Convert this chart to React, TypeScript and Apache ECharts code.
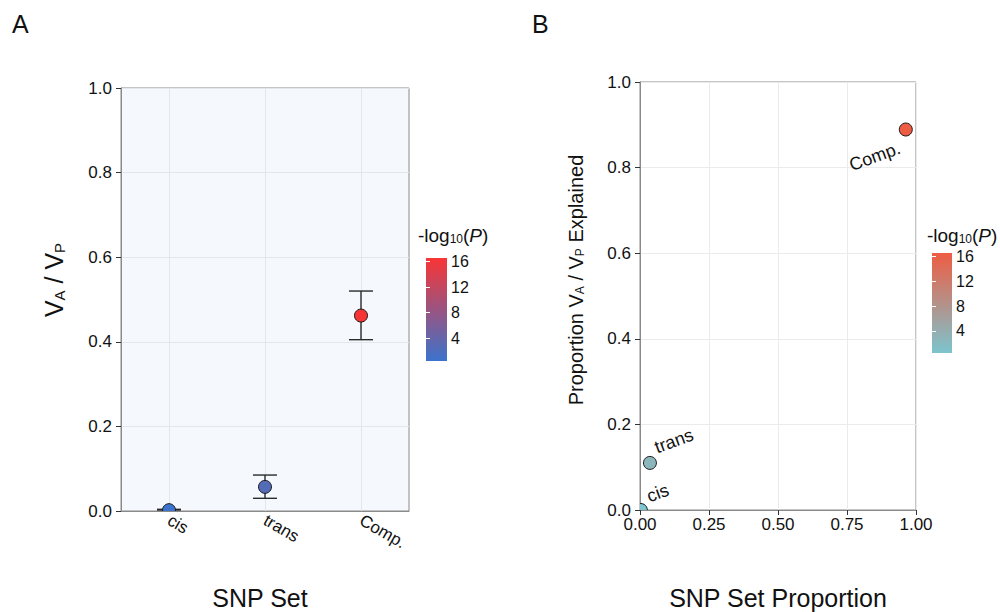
import React, { useEffect, useRef } from "react";
import * as echarts from "echarts";

// ---------- data ----------
const categories = ["cis", "trans", "Comp."];
const vaVp = [0.002, 0.057, 0.462];
const vaVpLow = [0.0, 0.03, 0.405];
const vaVpHigh = [0.004, 0.085, 0.52];
const negLog10P = [0.5, 2.6, 16.5];
const snpProportion = [0.003, 0.036, 0.963];
const propExplained = [0.0, 0.11, 0.889];
const colorbarTicks = [4, 8, 12, 16];
const pMin = 0.45;
const pMax = 16.55;

// ---------- styles ----------
const FONT = "'Liberation Sans', Arial, Helvetica, sans-serif";
const TXT = "#111111";
const leftColors = ["#3B73CC", "#F93535"];
const rightColors = ["#7CC4CE", "#EE5D43"];
const labelOffsets = [
  [17, -17],
  [24, -22],
  [-31, 27],
];

const axisLabelStyle = { fontSize: 17, color: TXT, fontFamily: FONT };

function colorbarSeries(gridIdx: number, colors: string[]) {
  return {
    type: "custom",
    xAxisIndex: gridIdx,
    yAxisIndex: gridIdx === 2 ? 2 : 4,
    silent: true,
    data: [[0, pMin, pMax]],
    renderItem: (_p: any, api: any) => {
      const a = api.coord([0, api.value(2)]);
      const b = api.coord([1, api.value(1)]);
      return {
        type: "rect",
        shape: { x: a[0], y: a[1], width: b[0] - a[0], height: b[1] - a[1] },
        style: {
          fill: new echarts.graphic.LinearGradient(0, 0, 0, 1, [
            { offset: 0, color: colors[1] },
            { offset: 1, color: colors[0] },
          ]),
        },
      };
    },
  };
}

function colorbarAxes(gridIndex: number) {
  return [
    {
      type: "value",
      gridIndex,
      min: pMin,
      max: pMax,
      position: "right",
      z: 5,
      axisLine: { show: false },
      splitLine: { show: false },
      axisTick: {
        show: true,
        inside: true,
        length: 4,
        customValues: colorbarTicks,
        lineStyle: { color: "#ffffff", width: 1 },
      },
      axisLabel: {
        show: true,
        margin: 4,
        customValues: colorbarTicks,
        fontSize: 16,
        color: TXT,
        fontFamily: FONT,
      },
    },
    {
      type: "value",
      gridIndex,
      min: pMin,
      max: pMax,
      position: "left",
      z: 5,
      axisLine: { show: false },
      splitLine: { show: false },
      axisTick: {
        show: true,
        inside: true,
        length: 4,
        customValues: colorbarTicks,
        lineStyle: { color: "#ffffff", width: 1 },
      },
      axisLabel: { show: false },
    },
  ];
}

export default function App() {
  const ref = useRef<HTMLDivElement>(null);

  useEffect(() => {
    if (!ref.current) return;
    const chart = echarts.init(ref.current, null, { renderer: "svg" });

    const legendTitle = (x: number) => ({
      type: "text",
      x,
      y: 235,
      style: {
        text: "-log{sub|10}({it|P})",
        align: "left",
        verticalAlign: "middle",
        fontSize: 19,
        fontFamily: FONT,
        fill: TXT,
        rich: {
          sub: { fontSize: 12, fontFamily: FONT, fill: TXT, verticalAlign: "bottom" },
          it: { fontSize: 19, fontStyle: "italic", fontFamily: FONT, fill: TXT },
        },
      },
    });

    const option: any = {
      animation: false,
      backgroundColor: "#ffffff",
      textStyle: { fontFamily: FONT },
      grid: [
        {
          left: 121,
          top: 88,
          width: 288,
          height: 423,
          show: true,
          backgroundColor: "#F5F8FC",
          borderColor: "#8a8a8a",
          borderWidth: 1,
        },
        {
          left: 640,
          top: 82,
          width: 276,
          height: 428,
          show: true,
          backgroundColor: "#ffffff",
          borderColor: "#8a8a8a",
          borderWidth: 1,
        },
        { left: 426, top: 258, width: 21, height: 103 },
        { left: 932, top: 253, width: 20, height: 100 },
      ],
      xAxis: [
        {
          type: "category",
          gridIndex: 0,
          data: categories,
          boundaryGap: true,
          axisLine: { lineStyle: { color: "#8a8a8a" } },
          axisTick: { alignWithLabel: true, length: 5, lineStyle: { color: "#333" } },
          axisLabel: { ...axisLabelStyle, rotate: -30, margin: 8 },
          splitLine: {
            show: true,
            alignWithLabel: true,
            lineStyle: { color: "#e3e7ec", width: 1 },
          },
        },
        {
          type: "value",
          gridIndex: 1,
          min: 0,
          max: 1,
          interval: 0.25,
          axisLine: { lineStyle: { color: "#8a8a8a" } },
          axisTick: { show: true, length: 5, lineStyle: { color: "#333" } },
          axisLabel: {
            ...axisLabelStyle,
            margin: 6,
            formatter: (v: number) => v.toFixed(2),
          },
          splitLine: { show: true, lineStyle: { color: "#ebebeb", width: 1 } },
        },
        { type: "value", gridIndex: 2, min: 0, max: 1, show: false },
        { type: "value", gridIndex: 3, min: 0, max: 1, show: false },
      ],
      yAxis: [
        {
          type: "value",
          gridIndex: 0,
          min: 0,
          max: 1,
          interval: 0.2,
          axisLine: { show: true, lineStyle: { color: "#8a8a8a" } },
          axisTick: { show: true, length: 5, lineStyle: { color: "#333" } },
          axisLabel: {
            ...axisLabelStyle,
            margin: 9,
            formatter: (v: number) => v.toFixed(1),
          },
          splitLine: { show: true, lineStyle: { color: "#e3e7ec", width: 1 } },
        },
        {
          type: "value",
          gridIndex: 1,
          min: 0,
          max: 1,
          interval: 0.2,
          axisLine: { show: true, lineStyle: { color: "#8a8a8a" } },
          axisTick: { show: true, length: 5, lineStyle: { color: "#333" } },
          axisLabel: {
            ...axisLabelStyle,
            margin: 9,
            formatter: (v: number) => v.toFixed(1),
          },
          splitLine: { show: true, lineStyle: { color: "#ebebeb", width: 1 } },
        },
        ...colorbarAxes(2),
        ...colorbarAxes(3),
      ],
      visualMap: [
        {
          type: "continuous",
          show: false,
          seriesIndex: 1,
          dimension: 2,
          min: pMin,
          max: pMax,
          inRange: { color: leftColors },
        },
        {
          type: "continuous",
          show: false,
          seriesIndex: 2,
          dimension: 2,
          min: pMin,
          max: pMax,
          inRange: { color: rightColors },
        },
      ],
      series: [
        {
          type: "custom",
          xAxisIndex: 0,
          yAxisIndex: 0,
          clip: true,
          silent: true,
          data: categories.map((_, i) => [i, vaVpLow[i], vaVpHigh[i]]),
          renderItem: (_p: any, api: any) => {
            const i = api.value(0);
            const lo = api.coord([i, api.value(1)]);
            const hi = api.coord([i, api.value(2)]);
            const h = 12;
            const st = { stroke: "#2b2b2b", lineWidth: 1.4 };
            return {
              type: "group",
              children: [
                { type: "line", shape: { x1: lo[0], y1: lo[1], x2: hi[0], y2: hi[1] }, style: st },
                { type: "line", shape: { x1: lo[0] - h, y1: lo[1], x2: lo[0] + h, y2: lo[1] }, style: st },
                { type: "line", shape: { x1: hi[0] - h, y1: hi[1], x2: hi[0] + h, y2: hi[1] }, style: st },
              ],
            };
          },
        },
        {
          type: "custom",
          xAxisIndex: 0,
          yAxisIndex: 0,
          clip: true,
          data: categories.map((_, i) => [i, vaVp[i], negLog10P[i]]),
          encode: { x: 0, y: 1 },
          renderItem: (_p: any, api: any) => {
            const c = api.coord([api.value(0), api.value(1)]);
            return {
              type: "circle",
              shape: { cx: c[0], cy: c[1], r: 6.5 },
              style: { fill: api.visual("color"), stroke: "#1a1a1a", lineWidth: 1 },
            };
          },
        },
        {
          type: "custom",
          xAxisIndex: 1,
          yAxisIndex: 1,
          clip: true,
          data: categories.map((_, i) => [snpProportion[i], propExplained[i], negLog10P[i], i]),
          encode: { x: 0, y: 1 },
          renderItem: (_p: any, api: any) => {
            const c = api.coord([api.value(0), api.value(1)]);
            const idx = api.value(3);
            const off = labelOffsets[idx];
            return {
              type: "group",
              children: [
                {
                  type: "circle",
                  shape: { cx: c[0], cy: c[1], r: 6.5 },
                  style: { fill: api.visual("color"), stroke: "#1a1a1a", lineWidth: 1 },
                },
                {
                  type: "text",
                  x: c[0] + off[0],
                  y: c[1] + off[1],
                  rotation: (20 * Math.PI) / 180,
                  style: {
                    text: categories[idx],
                    align: "center",
                    verticalAlign: "middle",
                    fontSize: 18,
                    fontFamily: FONT,
                    fill: TXT,
                  },
                },
              ],
            };
          },
        },
        colorbarSeries(2, leftColors),
        colorbarSeries(3, rightColors),
      ],
      graphic: [
        {
          type: "text",
          left: 12,
          top: 11,
          style: { text: "A", fontSize: 25, fontFamily: FONT, fill: TXT },
        },
        {
          type: "text",
          left: 532,
          top: 11,
          style: { text: "B", fontSize: 25, fontFamily: FONT, fill: TXT },
        },
        {
          type: "text",
          x: 54,
          y: 280,
          rotation: Math.PI / 2,
          style: {
            text: "V{sub|A} / V{sub|P}",
            align: "center",
            verticalAlign: "middle",
            fontSize: 25,
            fontFamily: FONT,
            fill: TXT,
            rich: {
              sub: { fontSize: 15, fontFamily: FONT, fill: TXT, verticalAlign: "bottom" },
            },
          },
        },
        {
          type: "text",
          x: 576,
          y: 280,
          rotation: Math.PI / 2,
          style: {
            text: "Proportion V{sub|A} / V{sub|P} Explained",
            align: "center",
            verticalAlign: "middle",
            fontSize: 20,
            fontFamily: FONT,
            fill: TXT,
            rich: {
              sub: { fontSize: 12, fontFamily: FONT, fill: TXT, verticalAlign: "bottom" },
            },
          },
        },
        {
          type: "text",
          x: 260,
          y: 598,
          style: {
            text: "SNP Set",
            align: "center",
            verticalAlign: "middle",
            fontSize: 25,
            fontFamily: FONT,
            fill: TXT,
          },
        },
        {
          type: "text",
          x: 778,
          y: 598,
          style: {
            text: "SNP Set Proportion",
            align: "center",
            verticalAlign: "middle",
            fontSize: 25,
            fontFamily: FONT,
            fill: TXT,
          },
        },
        legendTitle(418),
        legendTitle(927),
      ],
    };

    chart.setOption(option);
    return () => chart.dispose();
  }, []);

  return (
    <div
      ref={ref}
      style={{ position: "fixed", left: 0, top: 0, width: 1000, height: 612, background: "#fff" }}
    />
  );
}
